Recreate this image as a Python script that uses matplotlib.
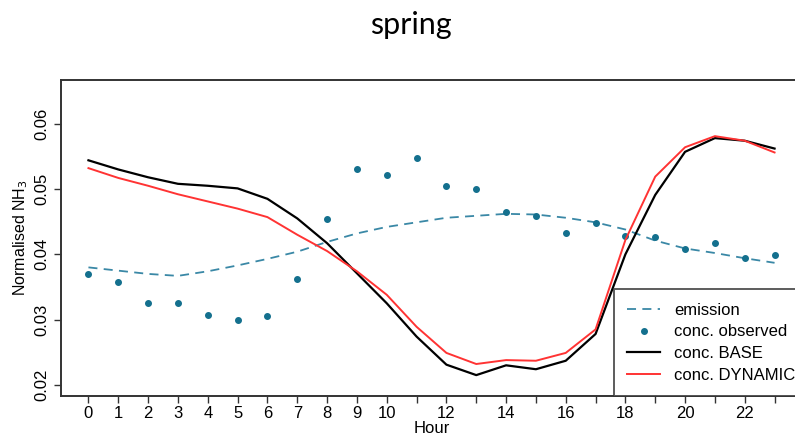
import matplotlib
matplotlib.use("Agg")
import matplotlib.pyplot as plt

hours = list(range(24))
emission = [0.0380, 0.0375, 0.0370, 0.0367, 0.0374, 0.0383, 0.0393, 0.0404, 0.0419, 0.0432,
            0.0442, 0.0449, 0.0456, 0.0459, 0.0462, 0.0461, 0.0456, 0.0449, 0.0438, 0.0421,
            0.0409, 0.0402, 0.0394, 0.0387]
observed = [0.0370, 0.0357, 0.0326, 0.0326, 0.0307, 0.0299, 0.0306, 0.0362, 0.0454, 0.0530,
            0.0521, 0.0548, 0.0504, 0.0500, 0.0465, 0.0459, 0.0432, 0.0448, 0.0428, 0.0426,
            0.0408, 0.0417, 0.0394, 0.0399]
base = [0.0544, 0.0530, 0.0518, 0.0508, 0.0505, 0.0501, 0.0485, 0.0455, 0.0417, 0.0371,
        0.0325, 0.0274, 0.0231, 0.0215, 0.0230, 0.0224, 0.0237, 0.0278, 0.0400, 0.0491,
        0.0557, 0.0578, 0.0574, 0.0562]
dynamic = [0.0532, 0.0517, 0.0505, 0.0492, 0.0481, 0.0470, 0.0457, 0.0430, 0.0405, 0.0374,
           0.0338, 0.0289, 0.0249, 0.0232, 0.0238, 0.0237, 0.0249, 0.0285, 0.0422, 0.0519,
           0.0564, 0.0581, 0.0574, 0.0556]
xtick_labels = [str(h) if (h <= 10 or h % 2 == 0) else "" for h in hours]
yticks = [0.02, 0.03, 0.04, 0.05, 0.06]

plt.rcParams['font.family'] = ['Liberation Sans', 'DejaVu Sans']

fig = plt.figure(figsize=(7.95, 4.37), dpi=100)
ax = fig.add_axes([61/795, 1 - 396/437, 741/795, 316/437])

ax.plot(hours, emission, color="#3a88a6", lw=1.3, ls=(0, (5, 3.5)), label="emission")
ax.plot(hours, observed, "o", color="#14708e", ms=4, ls="none", label="conc. observed")
ax.plot(hours, base, color="black", lw=1.6, label="conc. BASE")
ax.plot(hours, dynamic, color="#ff3333", lw=1.4, label="conc. DYNAMIC")

ax.set_xlim(-0.92, 23.92)
ax.set_ylim(0.0183, 0.0667)
ax.set_xticks(hours)
ax.set_xticklabels(xtick_labels)
ax.set_yticks(yticks)
ax.set_yticklabels(["0.02", "0.03", "0.04", "0.05", "0.06"], rotation=90, va="center")
ax.tick_params(axis="both", direction="out", length=5, width=1, labelsize=12, color="#333333")
ax.tick_params(axis="x", pad=2)
for s in ax.spines.values():
    s.set_linewidth(1.4)
    s.set_color("#333333")

ax.set_xlabel("Hour", fontsize=12, labelpad=0)
ax.set_ylabel("Normalised NH$_3$", fontsize=11.5, labelpad=3)

leg = ax.legend(loc="lower left", bbox_to_anchor=(0.746, 0.0, 0.26, 0.332), mode="expand",
                borderaxespad=0, fancybox=False, fontsize=12, handlelength=2.0,
                handletextpad=0.8, borderpad=0.8, labelspacing=0.4, frameon=True)
leg.get_frame().set_edgecolor("#333333")
leg.get_frame().set_linewidth(1.4)

fig.text(411/795, 1 - 25/437, "spring", fontsize=22, ha="center", va="center",
         family=["Lato", "DejaVu Sans"])

fig.savefig("out.png", dpi=100)
